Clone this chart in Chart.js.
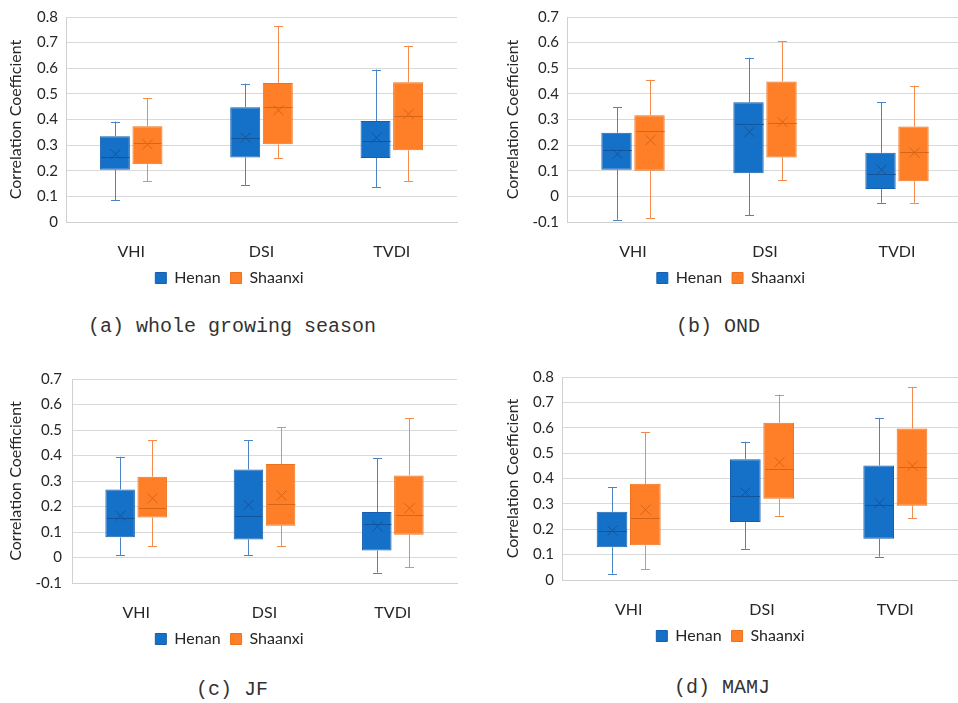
<!DOCTYPE html>
<html>
<head>
<meta charset="utf-8">
<script src="https://cdn.jsdelivr.net/npm/chart.js@4.4.1/dist/chart.umd.min.js"></script>
<style>
html, body { margin: 0; padding: 0; background: #fff; overflow: hidden; }
body { width: 958px; height: 703px; position: relative; }
.panel { position: absolute; }
.caption { position: absolute; font-family: "Liberation Mono", monospace; font-size: 20px; line-height: 24px; color: #333; white-space: pre; transform: translateX(-50%); }
</style>
</head>
<body>
<div class="panel" style="left:0;top:0;width:470px;height:300px"><canvas id="chartA"></canvas></div>
<div class="panel" style="left:480px;top:0;width:506px;height:300px"><canvas id="chartB"></canvas></div>
<div class="panel" style="left:0;top:360px;width:470px;height:300px"><canvas id="chartC"></canvas></div>
<div class="panel" style="left:480px;top:360px;width:506px;height:300px"><canvas id="chartD"></canvas></div>
<div class="caption" style="left:232px;top:315px">(a) whole growing season</div>
<div class="caption" style="left:718px;top:315px">(b) OND</div>
<div class="caption" style="left:232px;top:678px">(c) JF</div>
<div class="caption" style="left:722px;top:676px">(d) MAMJ</div>
<script>
const categories = ['VHI', 'DSI', 'TVDI'];
const seriesNames = ['Henan', 'Shaanxi'];

// one row per category: [min, q1, median, q3, max, mean]
const wholeHenan   = [[0.085, 0.204, 0.253, 0.335, 0.392, 0.265], [0.145, 0.252, 0.328, 0.448, 0.540, 0.329], [0.135, 0.250, 0.316, 0.394, 0.595, 0.329]];
const wholeShaanxi = [[0.160, 0.225, 0.307, 0.374, 0.482, 0.303], [0.250, 0.303, 0.449, 0.542, 0.765, 0.436], [0.160, 0.280, 0.415, 0.545, 0.688, 0.422]];
const ondHenan     = [[-0.091, 0.104, 0.180, 0.248, 0.348, 0.165], [-0.074, 0.090, 0.283, 0.367, 0.541, 0.252], [-0.025, 0.029, 0.088, 0.170, 0.367, 0.104]];
const ondShaanxi   = [[-0.085, 0.100, 0.255, 0.317, 0.455, 0.219], [0.064, 0.152, 0.287, 0.448, 0.606, 0.290], [-0.025, 0.059, 0.175, 0.273, 0.432, 0.171]];
const jfHenan      = [[0.009, 0.079, 0.155, 0.267, 0.395, 0.164], [0.009, 0.071, 0.161, 0.345, 0.459, 0.206], [-0.059, 0.027, 0.130, 0.178, 0.390, 0.122]];
const jfShaanxi    = [[0.044, 0.157, 0.196, 0.317, 0.459, 0.232], [0.044, 0.125, 0.209, 0.367, 0.511, 0.243], [-0.038, 0.089, 0.168, 0.322, 0.547, 0.193]];
const mamjHenan    = [[0.025, 0.129, 0.192, 0.269, 0.365, 0.195], [0.123, 0.229, 0.331, 0.476, 0.545, 0.345], [0.092, 0.163, 0.297, 0.451, 0.639, 0.303]];
const mamjShaanxi  = [[0.042, 0.137, 0.244, 0.379, 0.582, 0.277], [0.254, 0.320, 0.437, 0.620, 0.731, 0.464], [0.244, 0.293, 0.446, 0.597, 0.761, 0.450]];

const fills = ['#1570c8', '#fe7f27'];
const borders = ['#175fae', '#e9731f'];
const whiskerColors = ['#4a84c4', '#f28b4c'];
const medianColors = ['#12559c', '#d66517'];

const FONT = 'Lato, "Open Sans", sans-serif';
const TEXT = '#262626';

// whiskers, median line and mean cross drawn over the floating bars
const boxPlugin = {
    id: 'boxWhiskers',
    afterDatasetsDraw(chart) {
        const ctx = chart.ctx;
        const y = chart.scales.y;
        ctx.save();
        ctx.lineWidth = 1;
        chart.data.datasets.forEach((ds, d) => {
            const meta = chart.getDatasetMeta(d);
            ds.stats.forEach((s, i) => {
                const bar = meta.data[i];
                const x = Math.round(bar.x) + 0.5;
                const half = bar.width / 2;
                const pMin = y.getPixelForValue(s[0]);
                const pQ1 = y.getPixelForValue(s[1]);
                const pMed = Math.round(y.getPixelForValue(s[2])) + 0.5;
                const pQ3 = y.getPixelForValue(s[3]);
                const pMax = y.getPixelForValue(s[4]);
                const pMean = y.getPixelForValue(s[5]);

                ctx.strokeStyle = whiskerColors[d];
                ctx.beginPath();
                ctx.moveTo(x, pQ3); ctx.lineTo(x, pMax);
                ctx.moveTo(x - 4.5, Math.round(pMax) + 0.5); ctx.lineTo(x + 4.5, Math.round(pMax) + 0.5);
                ctx.moveTo(x, pQ1); ctx.lineTo(x, pMin);
                ctx.moveTo(x - 4.5, Math.round(pMin) + 0.5); ctx.lineTo(x + 4.5, Math.round(pMin) + 0.5);
                ctx.stroke();

                ctx.strokeStyle = medianColors[d];
                ctx.beginPath();
                ctx.moveTo(x - half + 1, pMed); ctx.lineTo(x + half - 1, pMed);
                ctx.moveTo(x - 5, pMean - 5); ctx.lineTo(x + 5, pMean + 5);
                ctx.moveTo(x - 5, pMean + 5); ctx.lineTo(x + 5, pMean - 5);
                ctx.stroke();
            });
        });
        ctx.restore();
    }
};

function makeChart(id, henan, shaanxi, yMin, yMax, lay) {
    const groups = [henan, shaanxi];
    new Chart(document.getElementById(id), {
        type: 'bar',
        data: {
            labels: categories,
            datasets: groups.map((g, d) => ({
                label: seriesNames[d],
                data: g.map(s => [s[1], s[3]]),
                stats: g,
                backgroundColor: fills[d],
                borderColor: borders[d],
                borderWidth: 1,
                borderSkipped: false,
                categoryPercentage: 0.5,
                barPercentage: 0.92
            }))
        },
        options: {
            responsive: true,
            maintainAspectRatio: false,
            animation: false,
            layout: { padding: { left: lay.padLeft, right: lay.padRight, top: 13, bottom: lay.padBottom } },
            scales: {
                x: {
                    grid: { display: false },
                    border: { color: '#d0d0d0' },
                    ticks: { color: TEXT, padding: 12, font: { family: FONT, size: 16 } },
                    afterFit: s => { s.height = lay.xHeight; }
                },
                y: {
                    min: yMin,
                    max: yMax,
                    ticks: {
                        stepSize: 0.1, color: TEXT, padding: lay.tickPad, font: { family: FONT, size: 15 },
                        callback: v => String(Math.round(v * 10) / 10)
                    },
                    grid: { color: '#d9d9d9', drawTicks: false },
                    border: { color: '#d0d0d0' },
                    title: { display: true, text: 'Correlation Coefficient', color: TEXT, font: { family: FONT, size: 16 } },
                    afterFit: s => { s.width = lay.yWidth; }
                }
            },
            plugins: {
                legend: {
                    position: 'bottom',
                    labels: { color: TEXT, boxWidth: 11, boxHeight: 11, padding: 10, font: { family: FONT, size: 16 } }
                },
                tooltip: { enabled: false }
            }
        },
        plugins: [boxPlugin]
    });
}

makeChart('chartA', wholeHenan, wholeShaanxi, 0, 0.8, { padLeft: 2, yWidth: 64, tickPad: 8, padRight: 13, padBottom: 4, xHeight: 38 });
makeChart('chartB', ondHenan, ondShaanxi, -0.1, 0.7, { padLeft: 19, yWidth: 68, tickPad: 8, padRight: 23, padBottom: 4, xHeight: 38 });
makeChart('chartC', jfHenan, jfShaanxi, -0.1, 0.7, { padLeft: 2, yWidth: 70, tickPad: 10, padRight: 13, padBottom: 3, xHeight: 38 });
makeChart('chartD', mamjHenan, mamjShaanxi, 0, 0.8, { padLeft: 19, yWidth: 63, tickPad: 8, padRight: 24, padBottom: 6, xHeight: 38 });
</script>
</body>
</html>
